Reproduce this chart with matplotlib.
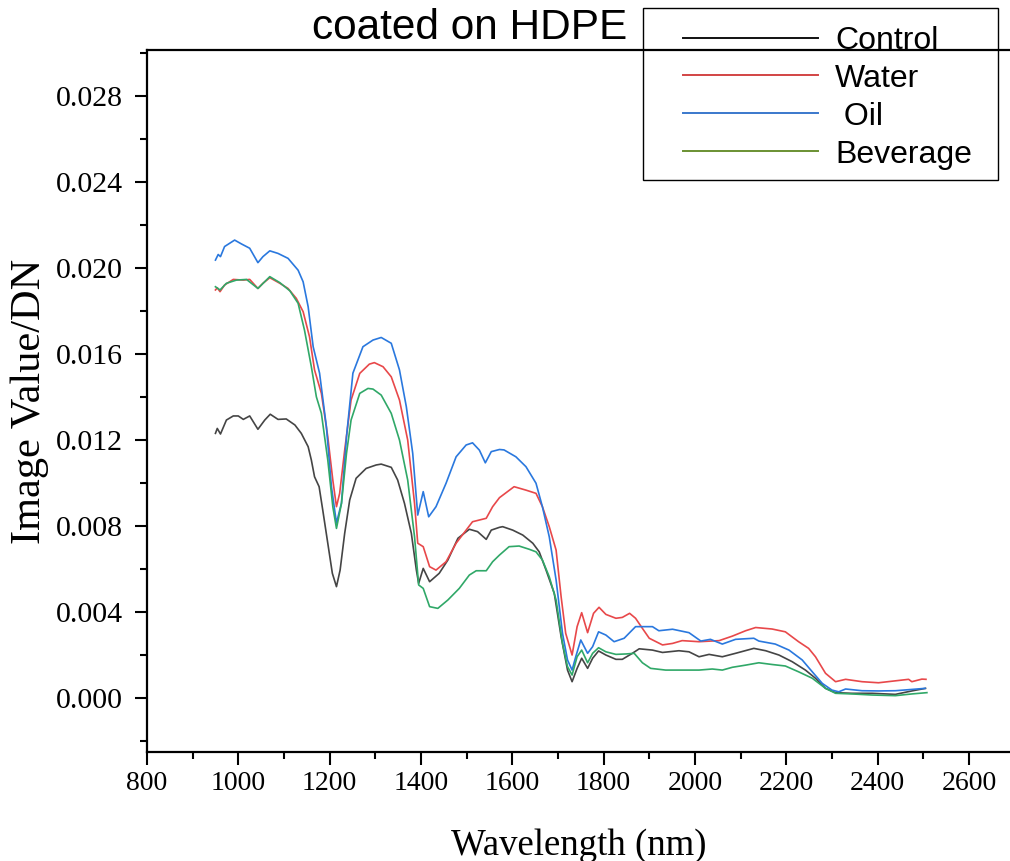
import matplotlib
matplotlib.use("Agg")
import matplotlib.pyplot as plt
from matplotlib.lines import Line2D
from matplotlib.patches import Rectangle
from matplotlib.ticker import MultipleLocator, FormatStrFormatter

# wavelength (nm) / image value pairs
wl_control = [950, 954, 961, 974, 989, 1000, 1011, 1025, 1043, 1058, 1070, 1087, 1105, 1124, 1138,
              1153, 1160, 1167, 1177, 1185, 1196, 1206, 1215, 1223, 1233, 1244, 1258, 1280, 1302,
              1313, 1335, 1349, 1364, 1379, 1390, 1395, 1405, 1419, 1440, 1459, 1481, 1506, 1524,
              1543, 1554, 1572, 1579, 1601, 1623, 1645, 1659, 1674, 1692, 1707, 1721, 1731, 1742,
              1752, 1765, 1776, 1789, 1805, 1827, 1841, 1863, 1878, 1907, 1929, 1965, 1987, 2009,
              2031, 2060, 2089, 2129, 2155, 2184, 2213, 2242, 2264, 2286, 2308, 2344, 2388, 2439,
              2475, 2505]
control = [0.01231, 0.01254, 0.01228, 0.01293, 0.01312, 0.01312, 0.01296, 0.01312, 0.0125, 0.01293,
           0.0132, 0.01296, 0.01298, 0.0127, 0.01231, 0.01169, 0.01107, 0.01029, 0.00983, 0.00874,
           0.0072, 0.0058, 0.00518, 0.00595, 0.00766, 0.00921, 0.01022, 0.01068, 0.01084, 0.01088,
           0.01073, 0.01014, 0.00905, 0.00766, 0.00595, 0.00533, 0.00603, 0.00541, 0.0058, 0.00642,
           0.00743, 0.00785, 0.00774, 0.00738, 0.00781, 0.00794, 0.00797, 0.00781, 0.00758, 0.0072,
           0.0068, 0.00595, 0.00487, 0.00285, 0.0013, 0.00076, 0.00138, 0.00185, 0.00138, 0.00185,
           0.00219, 0.002, 0.0018, 0.0018, 0.00208, 0.00229, 0.00223, 0.00212, 0.0022, 0.00215,
           0.00192, 0.00203, 0.00192, 0.00208, 0.00231, 0.0022, 0.002, 0.00169, 0.0013, 0.00092,
           0.00045, 0.00025, 0.00022, 0.00022, 0.00017, 0.00033, 0.00045]

wl_water = [950, 954, 960, 970, 989, 1011, 1025, 1043, 1054, 1069, 1091, 1109, 1127, 1142, 1156,
            1167, 1182, 1196, 1207, 1215, 1222, 1233, 1247, 1266, 1287, 1298, 1317, 1335, 1353,
            1371, 1386, 1393, 1405, 1419, 1433, 1455, 1477, 1499, 1513, 1543, 1557, 1572, 1604,
            1630, 1652, 1666, 1681, 1696, 1707, 1717, 1731, 1742, 1752, 1765, 1778, 1790, 1805,
            1827, 1841, 1857, 1870, 1885, 1900, 1929, 1951, 1972, 2009, 2053, 2082, 2111, 2133,
            2169, 2198, 2227, 2249, 2264, 2286, 2308, 2330, 2366, 2402, 2439, 2468, 2475, 2497, 2506]
water = [0.01898, 0.01908, 0.0189, 0.01921, 0.01947, 0.01944, 0.01947, 0.01905, 0.01929, 0.01955,
         0.01929, 0.01905, 0.01859, 0.01797, 0.0168, 0.01526, 0.01417, 0.01215, 0.01014, 0.0089,
         0.00952, 0.01153, 0.01386, 0.0151, 0.01553, 0.0156, 0.01541, 0.01494, 0.01386, 0.012,
         0.00905, 0.0072, 0.00704, 0.00611, 0.00595, 0.00634, 0.0072, 0.00781, 0.0082, 0.00836,
         0.0089, 0.00932, 0.00983, 0.00967, 0.00952, 0.0089, 0.00797, 0.00688, 0.00471, 0.00301,
         0.002, 0.00332, 0.00397, 0.00304, 0.00394, 0.00422, 0.00389, 0.00371, 0.00375, 0.00394,
         0.00371, 0.00324, 0.00278, 0.00247, 0.00254, 0.00267, 0.00262, 0.00267, 0.00288, 0.00313,
         0.00328, 0.00321, 0.00308, 0.00262, 0.00231, 0.00192, 0.00115, 0.00076, 0.00087, 0.00076,
         0.00071, 0.0008, 0.00087, 0.00076, 0.00088, 0.00087]

wl_oil = [950, 956, 961, 970, 992, 1007, 1025, 1043, 1054, 1069, 1087, 1109, 1131, 1142, 1153,
          1164, 1178, 1193, 1204, 1215, 1226, 1237, 1251, 1273, 1295, 1313, 1335, 1353, 1368,
          1382, 1393, 1405, 1417, 1433, 1455, 1477, 1499, 1513, 1528, 1541, 1554, 1572, 1582,
          1608, 1630, 1652, 1666, 1681, 1696, 1710, 1721, 1731, 1739, 1750, 1765, 1776, 1789,
          1805, 1823, 1845, 1870, 1907, 1921, 1951, 1987, 2013, 2034, 2060, 2089, 2129, 2140,
          2176, 2206, 2235, 2257, 2279, 2300, 2315, 2330, 2366, 2402, 2439, 2475, 2504]
oil = [0.02037, 0.02063, 0.02053, 0.0210, 0.0213, 0.02112, 0.02092, 0.02025, 0.02053, 0.0208,
       0.02068, 0.02045, 0.0199, 0.01936, 0.0182, 0.01634, 0.01511, 0.01262, 0.00983, 0.00814,
       0.00907, 0.01215, 0.01511, 0.01634, 0.01665, 0.01677, 0.0165, 0.01526, 0.01355, 0.01138,
       0.00851, 0.0096, 0.00843, 0.0089, 0.00999, 0.01122, 0.01177, 0.01187, 0.01153, 0.01094,
       0.01146, 0.01156, 0.01154, 0.01122, 0.01076, 0.00999, 0.0089, 0.0075, 0.00549, 0.00301,
       0.00177, 0.0013, 0.00192, 0.0027, 0.00208, 0.00239, 0.00308, 0.00293, 0.00262, 0.00278,
       0.00332, 0.00332, 0.00313, 0.0032, 0.00304, 0.00265, 0.00273, 0.00251, 0.00273, 0.00278,
       0.00265, 0.00251, 0.00223, 0.00177, 0.00122, 0.00068, 0.00037, 0.00029, 0.00042, 0.00034,
       0.00033, 0.00034, 0.0004, 0.00045]

wl_beverage = [950, 960, 974, 996, 1018, 1043, 1069, 1091, 1113, 1131, 1145, 1160, 1171, 1182,
               1196, 1207, 1215, 1226, 1237, 1247, 1266, 1284, 1295, 1313, 1335, 1353, 1371, 1386,
               1395, 1405, 1419, 1437, 1459, 1484, 1506, 1521, 1543, 1557, 1572, 1593, 1615, 1637,
               1652, 1666, 1681, 1696, 1710, 1721, 1731, 1742, 1752, 1765, 1776, 1789, 1805, 1827,
               1849, 1867, 1885, 1903, 1936, 1972, 2009, 2038, 2060, 2082, 2111, 2140, 2169, 2198,
               2227, 2257, 2286, 2308, 2344, 2388, 2439, 2475, 2508]
beverage = [0.01913, 0.01898, 0.01929, 0.01944, 0.01947, 0.01905, 0.0196, 0.01932, 0.01894, 0.01836,
            0.01711, 0.01541, 0.01401, 0.01324, 0.01107, 0.0089, 0.00789, 0.00905, 0.01138, 0.01293,
            0.01417, 0.0144, 0.01437, 0.01409, 0.01324, 0.012, 0.01014, 0.0075, 0.00526, 0.0051,
            0.00425, 0.00417, 0.00456, 0.0051, 0.00572, 0.00592, 0.00592, 0.00634, 0.00665, 0.00704,
            0.00707, 0.00692, 0.0068, 0.00642, 0.00564, 0.00456, 0.00254, 0.00146, 0.00107, 0.00192,
            0.00223, 0.00164, 0.00208, 0.00234, 0.00215, 0.00203, 0.00205, 0.00208, 0.00164, 0.00138,
            0.0013, 0.0013, 0.0013, 0.00135, 0.0013, 0.00143, 0.00153, 0.00164, 0.00156, 0.00149,
            0.00122, 0.00092, 0.00045, 0.00022, 0.00019, 0.00014, 0.00011, 0.00019, 0.00025]

labels = ["Control", "Water", " Oil", "Beverage"]
line_colors = ["#454545", "#e8484a", "#2a78de", "#30a868"]
legend_colors = ["#111111", "#d24444", "#3a78cc", "#6a9032"]

fig = plt.figure(figsize=(10.10, 8.61), dpi=100)
ax = fig.add_axes([0.1455, 0.1266, 0.8545, 0.8153])

series = [(wl_control, control), (wl_water, water), (wl_oil, oil), (wl_beverage, beverage)]
for (xs, ys), c in zip(series, line_colors):
    ax.plot(xs, ys, color=c, lw=1.2)

ax.set_xlim(800, 2690)
ax.set_ylim(-0.00251, 0.03014)
ax.xaxis.set_major_locator(MultipleLocator(200))
ax.xaxis.set_minor_locator(MultipleLocator(100))
ax.yaxis.set_major_locator(MultipleLocator(0.004))
ax.yaxis.set_minor_locator(MultipleLocator(0.002))
ax.yaxis.set_major_formatter(FormatStrFormatter("%.3f"))

ax.spines["right"].set_visible(False)
for s in ["left", "bottom", "top"]:
    ax.spines[s].set_linewidth(1.6)
ax.tick_params(which="both", direction="out", width=1.5, top=False, right=False)
ax.tick_params(which="major", length=9)
ax.tick_params(which="minor", length=5)
ax.tick_params(axis="y", which="major", pad=8)
ax.tick_params(axis="x", which="major", pad=5)
for lab in ax.get_xticklabels():
    lab.set_fontfamily("Liberation Serif")
    lab.set_fontsize(20)
for lab in ax.get_yticklabels():
    lab.set_fontfamily("Liberation Serif")
    lab.set_fontsize(21.5)

ax.set_xlabel("Wavelength (nm)", fontfamily="Liberation Serif", fontsize=26.5, labelpad=23)
ax.set_ylabel("Image Value/DN", fontfamily="Liberation Serif", fontsize=30.5, labelpad=5)

fig.text(0.309, 0.955, "coated on HDPE", fontfamily="Liberation Sans", fontsize=30.5,
         ha="left", va="baseline")

# legend box sticking out above the axes
fig.patches.append(Rectangle((643 / 1010, 1 - 180 / 861), 355 / 1010, 172 / 861,
                             transform=fig.transFigure, fill=False, lw=1.0, ec="black"))
handles = [Line2D([], [], color=c, lw=1.4) for c in legend_colors]
fig.legend(handles, labels, loc="upper left", bbox_to_anchor=(0.664, 0.985),
           frameon=False, prop={"family": "Liberation Sans", "size": 23},
           handlelength=4.2, handletextpad=0.55, labelspacing=0.25, borderaxespad=0)

fig.savefig("out.png", dpi=100)
